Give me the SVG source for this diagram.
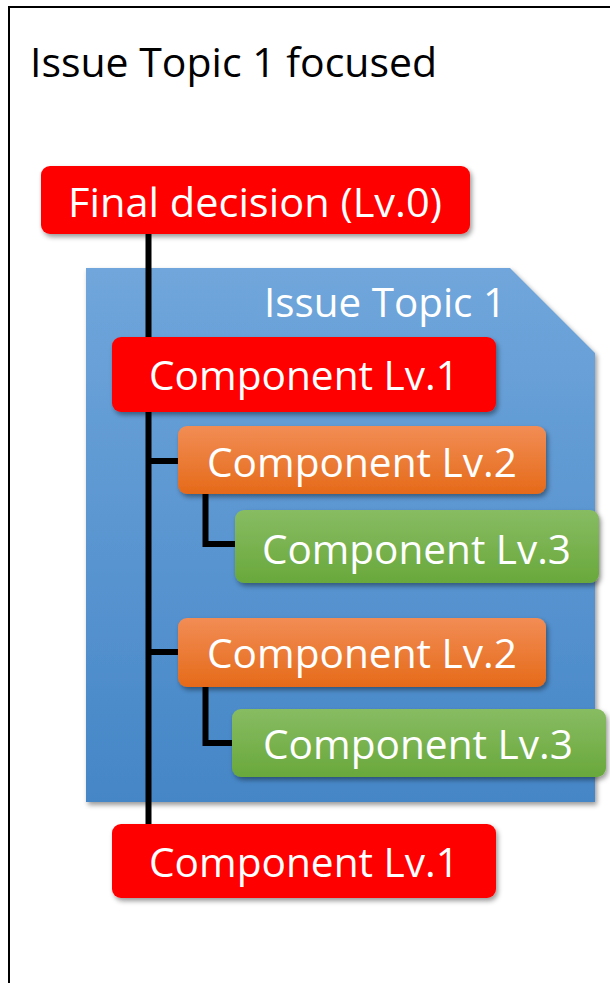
<svg xmlns="http://www.w3.org/2000/svg" width="610" height="983" viewBox="0 0 610 983">
<defs>
<filter id="sh" x="-10%" y="-10%" width="125%" height="130%">
<feDropShadow dx="2" dy="3" stdDeviation="2.5" flood-color="#000" flood-opacity="0.4"/>
</filter>
<linearGradient id="gBlue" x1="0" y1="0" x2="0" y2="1">
<stop offset="0" stop-color="#70a6db"/><stop offset="1" stop-color="#4586c7"/>
</linearGradient>
<linearGradient id="gOrange" x1="0" y1="0" x2="0" y2="1">
<stop offset="0" stop-color="#f28d55"/><stop offset="1" stop-color="#e56a19"/>
</linearGradient>
<linearGradient id="gGreen" x1="0" y1="0" x2="0" y2="1">
<stop offset="0" stop-color="#88bc63"/><stop offset="1" stop-color="#69a83b"/>
</linearGradient>
</defs>
<style>
.t{font-family:"Open Sans","Liberation Sans",sans-serif;font-size:41px;fill:#fff}
.title{font-family:"Open Sans","Liberation Sans",sans-serif;font-size:41px;fill:#000}
.red{fill:#ff0000}
.or{fill:url(#gOrange)}
.gr{fill:url(#gGreen)}
.c{stroke:#000;stroke-width:6;fill:none}
</style>
<rect x="9" y="7" width="700" height="1100" fill="#fff" stroke="#000" stroke-width="2"/>
<text class="title" x="30" y="77" textLength="407" lengthAdjust="spacingAndGlyphs">Issue Topic 1 focused</text>
<g id="topic">
<path d="M86 268 H510 L595 353 V802 H86 Z" fill="url(#gBlue)" filter="url(#sh)"/>
<text class="t" x="264" y="317" textLength="242" lengthAdjust="spacingAndGlyphs">Issue Topic 1</text>
</g>
<g id="connectors">
<line class="c" x1="148.5" y1="232" x2="148.5" y2="826"/>
<line class="c" x1="148.5" y1="461" x2="180" y2="461"/>
<polyline class="c" points="205.5,492 205.5,544 237,544"/>
<line class="c" x1="148.5" y1="652" x2="180" y2="652"/>
<polyline class="c" points="205.5,684 205.5,743 234,743"/>
</g>
<g id="n0">
<rect class="red" x="41" y="166" width="429" height="68" rx="9" filter="url(#sh)"/>
<text class="t" x="68" y="217" textLength="374" lengthAdjust="spacingAndGlyphs">Final decision (Lv.0)</text>
</g>
<g id="n1a">
<rect class="red" x="112" y="337" width="384" height="75" rx="9" filter="url(#sh)"/>
<text class="t" x="149" y="390" textLength="310" lengthAdjust="spacingAndGlyphs">Component Lv.1</text>
</g>
<g id="n2a">
<rect class="or" x="178" y="426" width="368" height="68" rx="9" filter="url(#sh)"/>
<text class="t" x="207" y="477" textLength="310" lengthAdjust="spacingAndGlyphs">Component Lv.2</text>
</g>
<g id="n3a">
<rect class="gr" x="235" y="510" width="364" height="73" rx="9" filter="url(#sh)"/>
<text class="t" x="262" y="564" textLength="309" lengthAdjust="spacingAndGlyphs">Component Lv.3</text>
</g>
<g id="n2b">
<rect class="or" x="178" y="618" width="368" height="69" rx="9" filter="url(#sh)"/>
<text class="t" x="207" y="668" textLength="310" lengthAdjust="spacingAndGlyphs">Component Lv.2</text>
</g>
<g id="n3b">
<rect class="gr" x="232" y="709" width="374" height="68" rx="9" filter="url(#sh)"/>
<text class="t" x="263" y="759" textLength="310" lengthAdjust="spacingAndGlyphs">Component Lv.3</text>
</g>
<g id="n1b">
<rect class="red" x="112" y="824" width="384" height="74" rx="9" filter="url(#sh)"/>
<text class="t" x="149" y="877" textLength="310" lengthAdjust="spacingAndGlyphs">Component Lv.1</text>
</g>
</svg>
